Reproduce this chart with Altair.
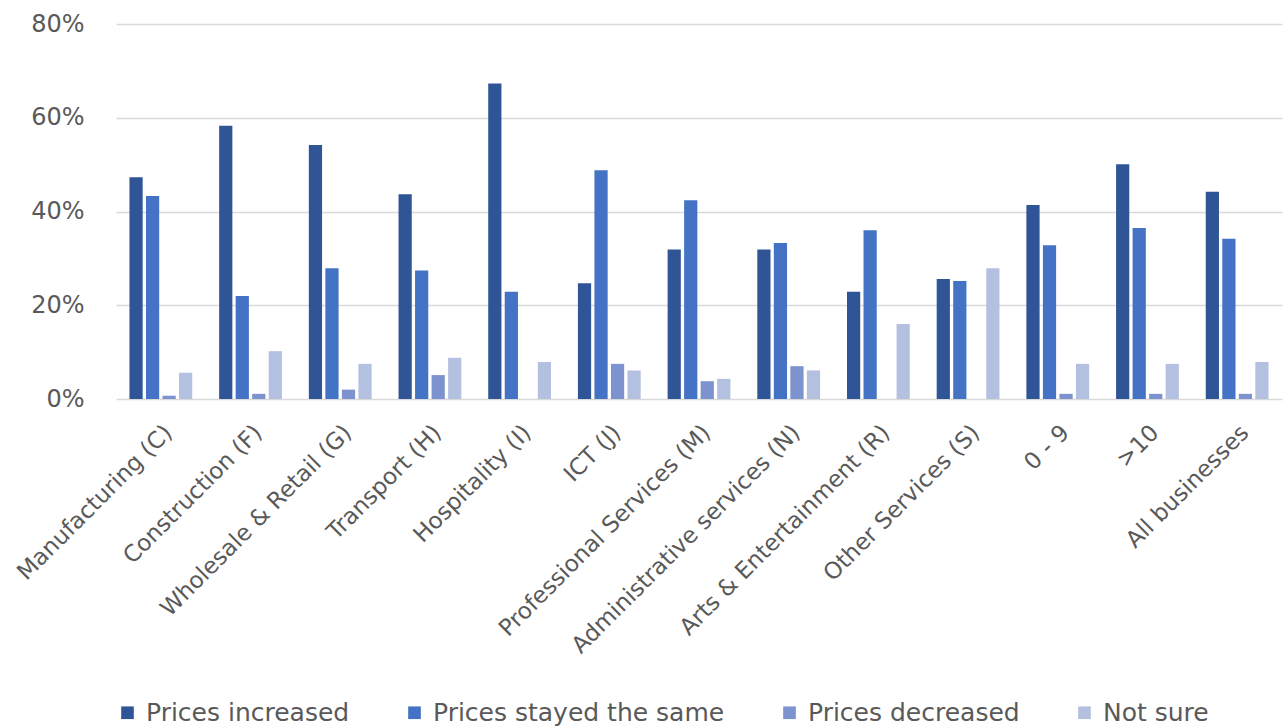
import altair as alt
import pandas as pd

# Share of businesses reporting each price change, by sector and size band
categories = [
    "Manufacturing (C)", "Construction (F)", "Wholesale & Retail (G)",
    "Transport (H)", "Hospitality (I)", "ICT (J)", "Professional Services (M)",
    "Administrative services (N)", "Arts & Entertainment (R)",
    "Other Services (S)", "0 - 9", ">10", "All businesses",
]
series = ["Prices increased", "Prices stayed the same", "Prices decreased", "Not sure"]

prices_increased = [47.3, 58.3, 54.2, 43.7, 67.3, 24.7, 31.9, 31.9, 22.9, 25.6, 41.4, 50.1, 44.2]
prices_same = [43.3, 22.0, 27.9, 27.4, 22.9, 48.8, 42.4, 33.3, 36.0, 25.2, 32.8, 36.5, 34.2]
prices_decreased = [0.7, 1.1, 2.0, 5.1, 0.0, 7.5, 3.8, 7.0, 0.0, 0.0, 1.1, 1.1, 1.1]
not_sure = [5.6, 10.2, 7.5, 8.8, 7.9, 6.1, 4.3, 6.1, 16.0, 27.9, 7.5, 7.5, 7.9]

colors = ["#2F5597", "#4472C4", "#7C93CF", "#B4C0E0"]

rows = []
for name, vals in zip(series, [prices_increased, prices_same, prices_decreased, not_sure]):
    for cat, v in zip(categories, vals):
        rows.append({"category": cat, "series": name, "value": v / 100})
df = pd.DataFrame(rows)

FONT = "DejaVu Sans"
TEXT = "#595959"

chart = (
    alt.Chart(df)
    .mark_bar()
    .encode(
        x=alt.X(
            "category:N",
            sort=categories,
            title=None,
            scale=alt.Scale(paddingInner=0.3, paddingOuter=0.15),
            axis=alt.Axis(
                labelAngle=-45,
                labelFontSize=23,
                labelColor=TEXT,
                labelFont=FONT,
                labelPadding=22,
                ticks=False,
                domain=False,
                grid=False,
                labelLimit=400,
            ),
        ),
        xOffset=alt.XOffset("series:N", sort=series, scale=alt.Scale(paddingInner=0.2)),
        y=alt.Y(
            "value:Q",
            title=None,
            scale=alt.Scale(domain=[0, 0.8]),
            axis=alt.Axis(
                values=[0, 0.2, 0.4, 0.6, 0.8],
                format=".0%",
                labelFontSize=24,
                labelColor=TEXT,
                labelFont=FONT,
                labelPadding=32,
                ticks=False,
                domain=False,
                gridColor="#D9D9D9",
                gridWidth=1.5,
            ),
        ),
        color=alt.Color(
            "series:N",
            sort=series,
            scale=alt.Scale(domain=series, range=colors),
            legend=alt.Legend(
                title=None,
                orient="none",
                direction="horizontal",
                legendX=-1,
                legendY=676,
                symbolType="square",
                symbolSize=160,
                symbolStrokeWidth=0,
                labelFontSize=25,
                labelFont=FONT,
                labelColor=TEXT,
                labelOffset=6,
                columnPadding=52,
                labelLimit=400,
            ),
        ),
    )
    .properties(
        width=1166,
        height=375,
        background="white",
        autosize=alt.AutoSizeParams(type="none"),
        padding={"left": 116, "top": 24, "right": 4, "bottom": 327},
    )
    .configure_view(strokeWidth=0)
)

chart.save("out.html", embed_options={"renderer": "svg", "actions": False})
